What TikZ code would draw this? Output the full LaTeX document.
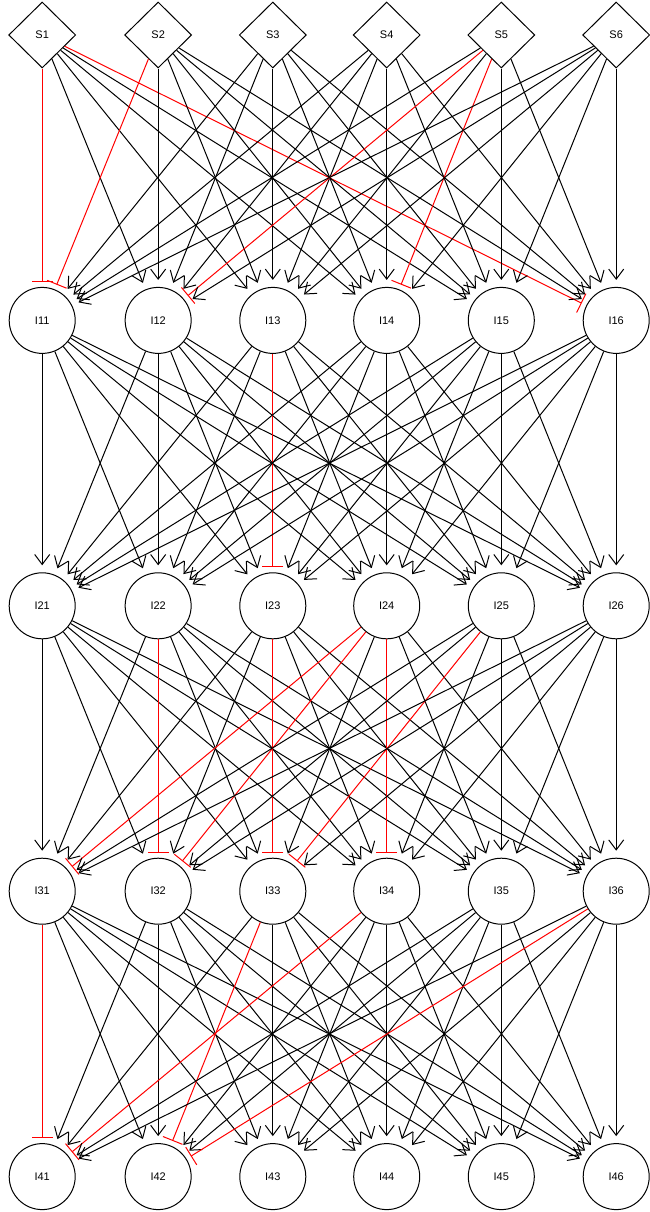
\documentclass[tikz,border=0pt]{standalone}
\usepackage{fontspec}
\setmainfont{Liberation Sans}
\usetikzlibrary{shapes.geometric, arrows.meta}

% inhibitory links, written as layer-from-to
\foreach \e in {0-1-1,0-2-1,0-1-6,0-5-2,0-5-4,1-3-3,2-2-2,2-3-3,2-4-4,2-4-1,2-4-2,2-5-3,3-1-1,3-4-1,3-3-2,3-6-2}
  {\expandafter\gdef\csname inh\e\endcsname{}}

\tikzset{
  src/.style={draw, diamond, minimum width=67pt, minimum height=66pt, inner sep=0pt, line width=1pt, font=\fontsize{11}{11}\selectfont},
  unit/.style={draw, circle, minimum size=66pt, inner sep=0pt, line width=1pt, font=\fontsize{11}{11}\selectfont},
  act/.style={line width=1pt, -{Straight Barb[length=10pt, width=15pt]}, shorten >=7pt, black},
  inh/.style={line width=1pt, -{Bar[width=21pt]}, shorten >=5pt, red},
}

\begin{document}
\begin{tikzpicture}[x=1pt, y=-1pt]
    \useasboundingbox (0,0) rectangle (649,1212);
    % nodes
    \foreach \x [count=\c] in {42.2,158.15,272.8,386.7,501.3,616.2} {
        \node[src] (S\c) at (\x,35) {S\c};
        \foreach \r in {1,...,4}
            \node[unit] (I\r\c) at (\x,{35+285.4*\r}) {I\r\c};
    }
    % first layer
    \foreach \i in {1,...,6} \foreach \j in {1,...,6} {
        \ifcsname inh0-\i-\j\endcsname
            \draw[inh] (S\i) -- (I1\j);
        \else
            \draw[act] (S\i) -- (I1\j);
        \fi
    }
    % hidden layers
    \foreach \l [evaluate=\l as \m using int(\l+1)] in {1,2,3}
    \foreach \i in {1,...,6} \foreach \j in {1,...,6} {
        \ifcsname inh\l-\i-\j\endcsname
            \draw[inh] (I\l\i) -- (I\m\j);
        \else
            \draw[act] (I\l\i) -- (I\m\j);
        \fi
    }
\end{tikzpicture}
\end{document}
